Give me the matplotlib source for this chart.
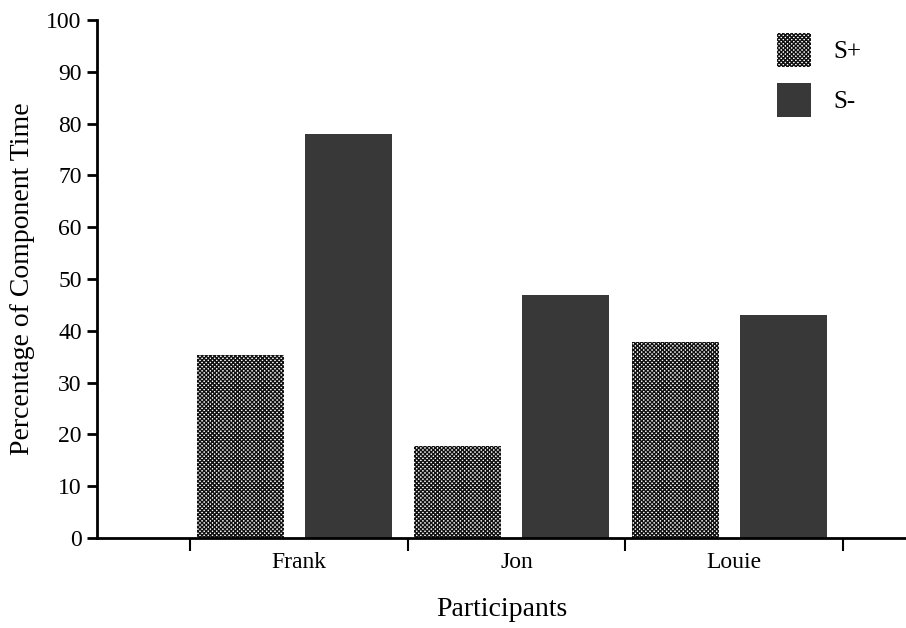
import matplotlib.pyplot as plt
import numpy as np

plt.rcParams['font.family'] = ['Liberation Serif', 'DejaVu Serif']
plt.rcParams['hatch.linewidth'] = 1.0

participantes = ['Frank', 'Jon', 'Louie']
s_mais = [35.3, 17.8, 37.9]
s_menos = [77.9, 46.9, 43.1]
yticks = np.arange(0, 101, 10)

fig = plt.figure(figsize=(9.06, 6.28), dpi=100)
ax = fig.add_axes([0.107, 0.1433, 0.893, 0.8249])

x = np.arange(len(participantes))
largura = 0.40

# S+ com padrao xadrez, S- cinza escuro
ax.bar(x - 0.27, s_mais, largura, facecolor='white', edgecolor='#111111',
       hatch='x' * 8, linewidth=0, label='S+')
ax.bar(x + 0.225, s_menos, largura, color='#383838', linewidth=0, label='S-')

ax.set_xlim(-0.93, 2.79)
ax.set_ylim(0, 100)
ax.set_yticks(yticks)
ax.tick_params(axis='y', labelsize=17, width=2, length=7, direction='out', pad=4)

# ticks do eixo x entre os grupos, rotulos no centro
ax.set_xticks(np.arange(-0.5, 3.0, 1.0))
ax.set_xticklabels([])
ax.set_xticks(x, minor=True)
ax.set_xticklabels(participantes, minor=True, fontsize=17)
ax.tick_params(axis='x', which='major', width=1.5, length=9, direction='out')
ax.tick_params(axis='x', which='minor', length=0, pad=10)

for lado in ['top', 'right']:
    ax.spines[lado].set_visible(False)
ax.spines['left'].set_linewidth(2)
ax.spines['bottom'].set_linewidth(2)

ax.set_ylabel('Percentage of Component Time', fontsize=20, labelpad=8)
ax.set_xlabel('Participants', fontsize=20, labelpad=17)

leg = ax.legend(loc='upper left', bbox_to_anchor=(777 / 906, 1 - 33 / 628),
                bbox_transform=fig.transFigure, frameon=False,
                fontsize=18, handlelength=1.36, handleheight=1.72,
                labelspacing=0.62, handletextpad=0.9,
                borderpad=0, borderaxespad=0)

plt.savefig('out.png', dpi=100)
